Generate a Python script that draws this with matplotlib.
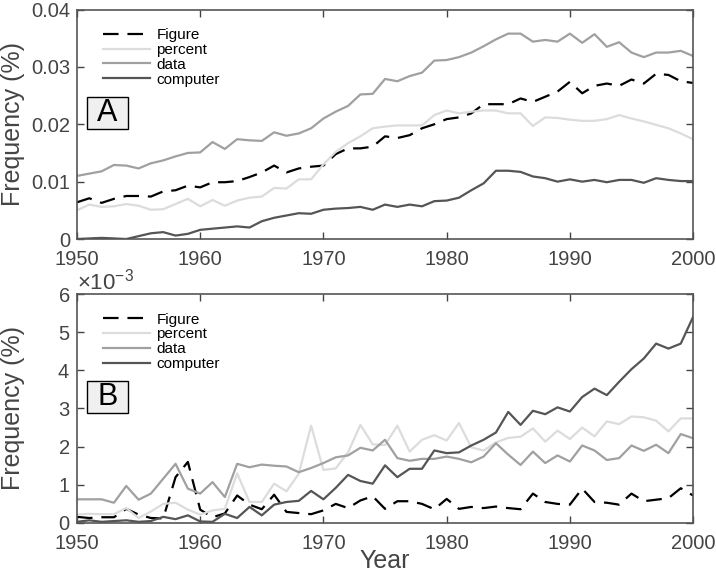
import matplotlib
matplotlib.use('Agg')
import matplotlib.pyplot as plt
from matplotlib.patches import Rectangle
from matplotlib.ticker import FuncFormatter, ScalarFormatter

plt.rcParams['font.family'] = ['Liberation Sans', 'DejaVu Sans']
plt.rcParams['mathtext.fontset'] = 'custom'
plt.rcParams['mathtext.rm'] = 'Liberation Sans'

anos = list(range(1950, 2001))

# Painel A - frequencia (%)
figure_a = [0.0064, 0.0071, 0.0063, 0.0070, 0.0075, 0.0075, 0.0074, 0.0083, 0.0085, 0.0093,
            0.0090, 0.0099, 0.0099, 0.0101, 0.0108, 0.0116, 0.0128, 0.0116, 0.0123, 0.0126,
            0.0128, 0.0148, 0.0158, 0.0158, 0.0161, 0.0179, 0.0176, 0.0181, 0.0193, 0.0200,
            0.0209, 0.0212, 0.0219, 0.0235, 0.0235, 0.0235, 0.0245, 0.0239, 0.0248, 0.0257,
            0.0274, 0.0254, 0.0267, 0.0271, 0.0267, 0.0278, 0.0271, 0.0288, 0.0286, 0.0275,
            0.0272]
percent_a = [0.0050, 0.0060, 0.0056, 0.0057, 0.0061, 0.0058, 0.0051, 0.0052, 0.0061, 0.0070,
             0.0057, 0.0068, 0.0058, 0.0067, 0.0072, 0.0074, 0.0089, 0.0088, 0.0104, 0.0104,
             0.0130, 0.0152, 0.0167, 0.0179, 0.0193, 0.0196, 0.0198, 0.0198, 0.0198, 0.0216,
             0.0224, 0.0219, 0.0222, 0.0224, 0.0224, 0.0219, 0.0219, 0.0197, 0.0212, 0.0211,
             0.0208, 0.0206, 0.0206, 0.0209, 0.0216, 0.0210, 0.0205, 0.0199, 0.0193, 0.0184,
             0.0174]
data_a = [0.0110, 0.0114, 0.0118, 0.0129, 0.0128, 0.0123, 0.0132, 0.0137, 0.0144, 0.0150,
          0.0151, 0.0169, 0.0157, 0.0174, 0.0172, 0.0171, 0.0186, 0.0180, 0.0184, 0.0193,
          0.0210, 0.0222, 0.0232, 0.0252, 0.0253, 0.0279, 0.0275, 0.0284, 0.0290, 0.0311,
          0.0312, 0.0317, 0.0325, 0.0336, 0.0348, 0.0358, 0.0358, 0.0344, 0.0347, 0.0344,
          0.0358, 0.0342, 0.0357, 0.0335, 0.0343, 0.0325, 0.0317, 0.0325, 0.0325, 0.0328,
          0.0319]
computer_a = [0.0000, 0.0001, 0.0002, 0.0001, 0.0000, 0.0005, 0.0010, 0.0012, 0.0006, 0.0009,
              0.0016, 0.0018, 0.0020, 0.0022, 0.0020, 0.0031, 0.0037, 0.0041, 0.0045, 0.0044,
              0.0051, 0.0053, 0.0054, 0.0056, 0.0051, 0.0060, 0.0056, 0.0060, 0.0057, 0.0066,
              0.0067, 0.0072, 0.0085, 0.0097, 0.0119, 0.0119, 0.0117, 0.0109, 0.0106, 0.0100,
              0.0104, 0.0100, 0.0103, 0.0099, 0.0103, 0.0103, 0.0098, 0.0106, 0.0103, 0.0101,
              0.0101]

# Painel B - frequencia em unidades de 1e-3 (%)
figure_b = [0.16, 0.13, 0.15, 0.15, 0.37, 0.22, 0.13, 0.12, 1.20, 1.60,
            0.35, 0.15, 0.25, 0.72, 0.48, 0.36, 0.74, 0.29, 0.26, 0.23,
            0.33, 0.50, 0.39, 0.59, 0.70, 0.37, 0.57, 0.57, 0.50, 0.36,
            0.63, 0.37, 0.42, 0.39, 0.43, 0.39, 0.36, 0.77, 0.55, 0.50,
            0.48, 0.90, 0.55, 0.53, 0.48, 0.77, 0.57, 0.61, 0.65, 0.91,
            0.72]
percent_b = [0.22, 0.24, 0.23, 0.23, 0.39, 0.13, 0.30, 0.50, 0.53, 0.35,
             0.22, 0.33, 0.37, 1.30, 0.55, 0.55, 1.03, 0.83, 1.29, 2.55,
             1.39, 1.43, 1.85, 2.57, 2.06, 2.04, 2.55, 1.87, 2.18, 2.30,
             2.16, 2.62, 1.98, 1.90, 2.11, 2.23, 2.26, 2.48, 2.13, 2.42,
             2.20, 2.50, 2.27, 2.66, 2.59, 2.79, 2.77, 2.68, 2.40, 2.74,
             2.74]
data_b = [0.62, 0.62, 0.62, 0.53, 0.97, 0.61, 0.77, 1.16, 1.55, 0.90,
          0.77, 1.07, 0.68, 1.55, 1.46, 1.53, 1.50, 1.48, 1.33, 1.44,
          1.57, 1.72, 1.77, 1.97, 1.90, 2.18, 1.70, 1.63, 1.68, 1.68,
          1.74, 1.68, 1.59, 1.74, 2.09, 1.79, 1.52, 1.87, 1.57, 1.77,
          1.61, 2.03, 1.90, 1.65, 1.70, 2.03, 1.89, 2.05, 1.83, 2.33,
          2.22]
computer_b = [0.03, 0.07, 0.03, 0.05, 0.07, 0.03, 0.05, 0.16, 0.10, 0.20,
              0.04, 0.03, 0.24, 0.13, 0.42, 0.20, 0.48, 0.55, 0.58, 0.84,
              0.62, 0.92, 1.26, 1.10, 1.03, 1.51, 1.20, 1.42, 1.42, 1.90,
              1.83, 1.85, 2.03, 2.18, 2.37, 2.91, 2.57, 2.94, 2.85, 3.03,
              2.92, 3.30, 3.52, 3.35, 3.70, 4.03, 4.31, 4.70, 4.57, 4.70,
              5.40]

rotulos = ['Figure', 'percent', 'data', 'computer']
cores = ['black', '#dcdcdc', '#a0a0a0', '#555555']
estilos = [(0, (7, 4)), '-', '-', '-']
cinza = '#444444'


def desenhar_painel(ax, series, letra, escala=1.0):
    for valores, rotulo, cor, estilo in zip(series, rotulos, cores, estilos):
        ax.plot(anos, [v * escala for v in valores], color=cor, linestyle=estilo,
                linewidth=1.6, label=rotulo)
    ax.set_xlim(1950, 2000)
    ax.set_xticks([1950, 1960, 1970, 1980, 1990, 2000])
    ax.tick_params(direction='in', top=True, right=True, labelsize=14.5,
                   colors=cinza, length=5, width=1)
    ax.tick_params(axis='x', pad=8)
    ax.tick_params(axis='y', pad=5)
    for sp in ax.spines.values():
        sp.set_color('#555555')
        sp.set_linewidth(1.2)
    ax.set_ylabel('Frequency (%)', fontsize=18, color=cinza)
    ax.yaxis.set_label_coords(-0.084, 0.5)
    ax.legend(loc='upper left', frameon=False, fontsize=11, handlelength=3.1,
              labelspacing=0.05, handletextpad=0.4, borderaxespad=0.0,
              bbox_to_anchor=(0.032, 0.945))
    # caixa com a letra do painel
    ax.add_patch(Rectangle((0.016, 0.479), 0.067, 0.139, transform=ax.transAxes,
                           facecolor='#f0f0f0', edgecolor='black', linewidth=1,
                           zorder=5))
    ax.text(0.0495, 0.548, letra, transform=ax.transAxes, fontsize=22,
            color='black', va='center', ha='center', zorder=6)


fig = plt.figure(figsize=(7.16, 5.74), dpi=100)

ax_a = fig.add_axes([0.1075, 0.5836, 0.8605, 0.3998])
desenhar_painel(ax_a, [figure_a, percent_a, data_a, computer_a], 'A')
ax_a.set_ylim(0, 0.04)
ax_a.set_yticks([0, 0.01, 0.02, 0.03, 0.04])
ax_a.yaxis.set_major_formatter(FuncFormatter(lambda v, p: '%g' % round(v, 4)))

ax_b = fig.add_axes([0.1075, 0.0889, 0.8605, 0.3989])
desenhar_painel(ax_b, [figure_b, percent_b, data_b, computer_b], 'B', escala=1e-3)
ax_b.set_ylim(0, 0.006)
ax_b.set_yticks([0, 0.001, 0.002, 0.003, 0.004, 0.005, 0.006])
fmt = ScalarFormatter(useMathText=True)
fmt.set_powerlimits((-2, 2))
ax_b.yaxis.set_major_formatter(fmt)
ax_b.yaxis.get_offset_text().set_fontsize(16)
ax_b.yaxis.get_offset_text().set_color(cinza)
ax_b.set_xlabel('Year', fontsize=18, color=cinza, labelpad=-3)

plt.savefig('out.png', dpi=100)
plt.close()
